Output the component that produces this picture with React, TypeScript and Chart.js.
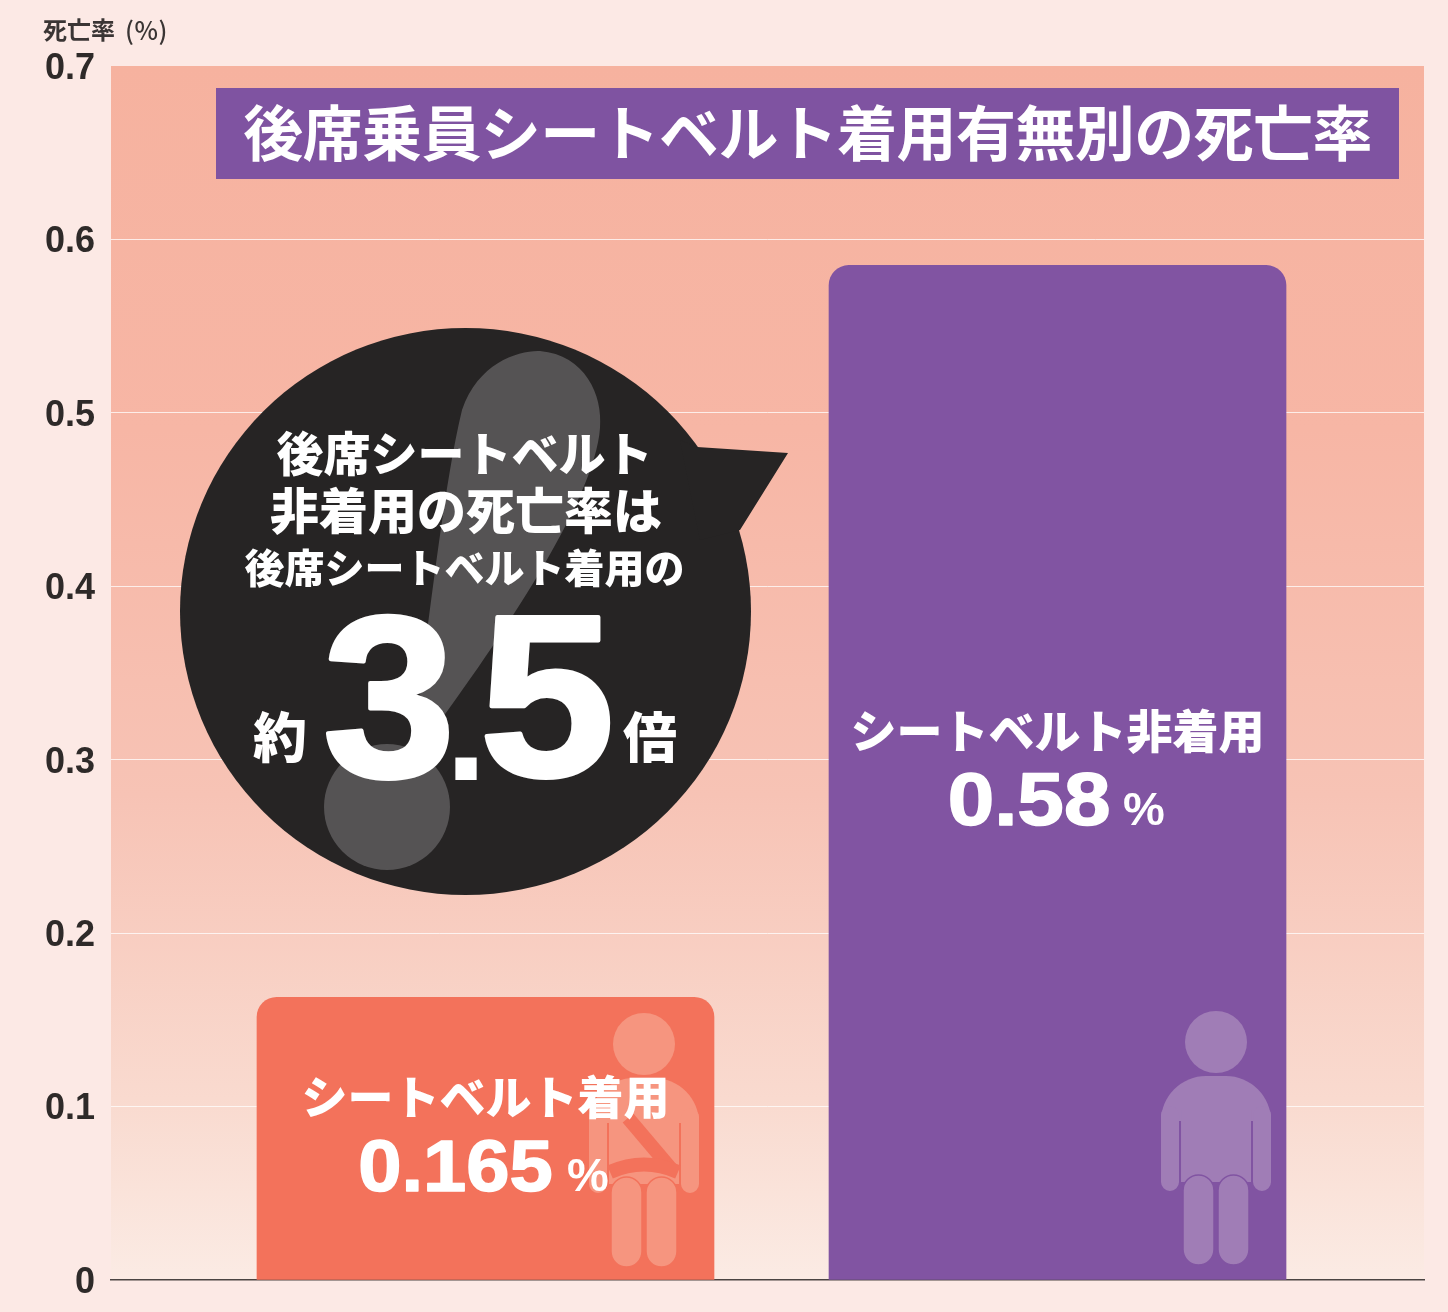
import React, { useEffect, useRef } from "react";
import { Chart, registerables } from "chart.js";

Chart.register(...registerables);

const categories = ["シートベルト着用", "シートベルト非着用"];
const categoryPositions = [0, 1];
const barValues = [0.163, 0.585];
const valueLabels = ["0.165", "0.58"];
const tickValues = [0, 0.1, 0.2, 0.3, 0.4, 0.5, 0.6, 0.7];
const tickLabels = ["0", "0.1", "0.2", "0.3", "0.4", "0.5", "0.6", "0.7"];
const barColors = ["#F3725B", "#8154A2"];
const personColors = ["#F6957F", "#A07DB6"];
const titleText = "後席乗員シートベルト着用有無別の死亡率";
const bubbleLines = ["後席シートベルト", "非着用の死亡率は", "後席シートベルト着用の"];

const JP = '"Noto Sans CJK JP"';
const LAT = '"Liberation Sans"';

function text(ctx: any, s: string, x: number, y: number, font: string, color = "#fff", align = "center", spacing = "0px") {
  ctx.font = font;
  ctx.fillStyle = color;
  ctx.textAlign = align;
  ctx.textBaseline = "middle";
  ctx.letterSpacing = spacing;
  ctx.fillText(s, x, y);
  ctx.letterSpacing = "0px";
}

// Latin numerals in the reference are wider and heavier than Liberation Bold
function wideText(ctx: any, s: string, x: number, y: number, font: string, sx: number, heavy: number, baseline = "middle") {
  ctx.save();
  ctx.translate(x, y);
  ctx.scale(sx, 1);
  ctx.font = font;
  ctx.fillStyle = "#fff";
  ctx.strokeStyle = "#fff";
  ctx.lineWidth = heavy;
  ctx.lineJoin = "round";
  ctx.textAlign = "center";
  ctx.textBaseline = baseline;
  if (heavy > 0) ctx.strokeText(s, 0, 0);
  ctx.fillText(s, 0, 0);
  ctx.restore();
}

function drawPerson(ctx: any, cx: number, dy: number, fill: string, bg: string, belt: boolean) {
  ctx.save();
  ctx.fillStyle = fill;
  ctx.beginPath();
  ctx.arc(cx, 1042 + dy, 31, 0, Math.PI * 2);
  ctx.fill();
  // shoulders
  ctx.beginPath();
  ctx.roundRect(cx - 55, 1076 + dy, 110, 45, [46, 46, 0, 0]);
  ctx.fill();
  // arms
  ctx.beginPath();
  ctx.roundRect(cx - 55, 1106 + dy, 18, 85, 9);
  ctx.roundRect(cx + 37, 1106 + dy, 18, 85, 9);
  ctx.fill();
  // torso
  ctx.fillRect(cx - 35, 1110 + dy, 70, 72);
  if (belt) {
    ctx.strokeStyle = bg;
    ctx.lineWidth = 14;
    ctx.beginPath();
    ctx.moveTo(cx - 16, 1116 + dy);
    ctx.lineTo(cx + 28, 1168 + dy);
    ctx.stroke();
    ctx.beginPath();
    ctx.moveTo(cx - 34, 1170 + dy);
    ctx.quadraticCurveTo(cx, 1155 + dy, cx + 34, 1170 + dy);
    ctx.stroke();
  }
  // legs
  ctx.fillStyle = fill;
  ctx.strokeStyle = bg;
  ctx.lineWidth = 1.5;
  for (const lx of [cx - 33, cx + 2]) {
    ctx.beginPath();
    ctx.roundRect(lx, 1175 + dy, 31, 90, 15.5);
    ctx.fill();
    ctx.stroke();
  }
  ctx.restore();
}

const backgroundPlugin = {
  id: "background",
  beforeDraw(chart: any) {
    const { ctx, chartArea: a, width, height } = chart;
    ctx.save();
    ctx.fillStyle = "#FCE9E5";
    ctx.fillRect(0, 0, width, height);
    const g = ctx.createLinearGradient(0, a.top, 0, a.bottom);
    g.addColorStop(0, "#F6B29F");
    g.addColorStop(0.3, "#F7B6A5");
    g.addColorStop(0.6, "#F7C3B5");
    g.addColorStop(0.85, "#F9DACF");
    g.addColorStop(1, "#FBEBE4");
    ctx.fillStyle = g;
    ctx.fillRect(a.left, a.top, a.right - a.left, a.bottom - a.top);
    ctx.restore();
  },
};

// the tick numerals sit a little below their grid lines in the reference
const tickNudgePlugin = {
  id: "tickNudge",
  afterLayout(chart: any) {
    const y = chart.scales.y;
    const orig = y.getLabelItems.bind(y);
    y.getLabelItems = (area: any) => {
      y._labelItems = null;
      return orig(area).map((it: any) => ({
        ...it,
        options: { ...it.options, translation: [it.options.translation[0], it.options.translation[1] + 3] },
      }));
    };
  },
};

const overlayPlugin = {
  id: "overlay",
  afterDatasetsDraw(chart: any) {
    const { ctx } = chart;
    const bars = chart.getDatasetMeta(0).data;
    ctx.save();

    // axis caption
    text(ctx, "死亡率", 43, 30, `700 24px ${JP}`, "#3A3534", "left");
    text(ctx, "(%)", 125, 30, `500 25px ${JP}`, "#3A3534", "left", "0.6px");

    // title
    ctx.fillStyle = "#7F53A1";
    ctx.fillRect(216, 88, 1183, 91);
    text(ctx, titleText, 807.5, 133, `700 60px ${JP}`, "#fff", "center", "-0.6px");

    // people
    bars.forEach((b: any, i: number) => {
      const cx = b.x + b.width / 2 - 70;
      drawPerson(ctx, cx, i === 0 ? 2 : 0, personColors[i], barColors[i], i === 0);
    });

    // bar labels
    const left = bars[0].x;
    text(ctx, categories[0], left, 1097, `900 46px ${JP}`);
    wideText(ctx, valueLabels[0], left - 30, 1171, `700 72px ${LAT}`, 1.08, 1.5);
    wideText(ctx, "%", 588, 1178, `700 47px ${LAT}`, 1, 0);
    const right = bars[1].x;
    text(ctx, categories[1], right, 731, `900 46px ${JP}`);
    wideText(ctx, valueLabels[1], right - 28.5, 805, `700 74px ${LAT}`, 1.13, 1.5);
    wideText(ctx, "%", 1144, 812, `700 47px ${LAT}`, 1, 0);

    // speech bubble
    ctx.fillStyle = "#262424";
    ctx.beginPath();
    ctx.ellipse(465.5, 611.5, 285.5, 283.5, 0, 0, Math.PI * 2);
    ctx.fill();
    ctx.beginPath();
    ctx.moveTo(680, 440);
    ctx.lineTo(697, 447);
    ctx.lineTo(788, 453);
    ctx.lineTo(740, 530);
    ctx.lineTo(700, 540);
    ctx.closePath();
    ctx.fill();

    // exclamation mark
    ctx.fillStyle = "#555354";
    ctx.beginPath();
    ctx.moveTo(419, 690);
    ctx.bezierCurveTo(432, 600, 445, 480, 462, 410);
    ctx.bezierCurveTo(478, 362, 520, 350, 540, 351);
    ctx.bezierCurveTo(585, 355, 603, 395, 600, 428);
    ctx.bezierCurveTo(595, 500, 500, 640, 430, 735);
    ctx.closePath();
    ctx.fill();
    ctx.beginPath();
    ctx.arc(387, 807, 63, 0, Math.PI * 2);
    ctx.fill();

    // bubble text
    text(ctx, bubbleLines[0], 464.5, 453, `900 47px ${JP}`);
    text(ctx, bubbleLines[1], 466, 510, `900 49px ${JP}`);
    text(ctx, bubbleLines[2], 464.5, 568, `900 40px ${JP}`);
    text(ctx, "約", 280, 737, `900 54px ${JP}`);
    text(ctx, "倍", 650, 737, `900 54px ${JP}`);
    wideText(ctx, "3", 389, 776, `700 230px ${LAT}`, 1.04, 4, "alphabetic");
    wideText(ctx, ".", 466, 780, `700 150px ${LAT}`, 1, 0, "alphabetic");
    wideText(ctx, "5", 547, 776, `700 230px ${LAT}`, 1.06, 4, "alphabetic");

    ctx.restore();
  },
};

export default function App() {
  const ref = useRef<HTMLCanvasElement>(null);

  useEffect(() => {
    document.body.style.margin = "0";
    const chart = new Chart(ref.current as any, {
      type: "bar",
      data: {
        datasets: [
          {
            data: categoryPositions.map((x, i) => ({ x, y: barValues[i] })),
            backgroundColor: barColors,
            barThickness: 457,
            borderSkipped: false,
            borderRadius: { topLeft: 20, topRight: 20, bottomLeft: 0, bottomRight: 0 },
          },
        ],
      },
      options: {
        responsive: false,
        animation: false,
        devicePixelRatio: 1,
        layout: { padding: { top: 66, right: 24, left: 0, bottom: 0 } },
        plugins: { legend: { display: false }, title: { display: false }, tooltip: { enabled: false } },
        scales: {
          x: {
            type: "linear",
            offset: false,
            min: -0.6547,
            max: 1.6407,
            ticks: { display: false },
            grid: { display: false },
            border: { display: true, color: "#4A4442", width: 1.5 },
            afterFit(s: any) {
              s.height = 32;
            },
          },
          y: {
            min: 0,
            max: 0.7,
            afterBuildTicks(s: any) {
              s.ticks = tickValues.map((value) => ({ value }));
            },
            afterFit(s: any) {
              s.width = 111;
              s.paddingTop = 0;
              s.paddingBottom = 0;
            },
            ticks: {
              padding: 16,
              color: "#2E2A29",
              font: { family: "Liberation Sans", size: 36, weight: "bold" },
              callback: (v: any) => tickLabels[tickValues.indexOf(v)],
            },
            grid: {
              drawTicks: false,
              tickLength: 0,
              lineWidth: 1,
              color: (c: any) =>
                c.tick && c.tick.value > 0 && c.tick.value < 0.7 ? "rgba(255,255,255,0.75)" : "rgba(0,0,0,0)",
            },
            border: { display: false },
          },
        },
      },
      plugins: [backgroundPlugin, tickNudgePlugin, overlayPlugin],
    } as any);
    return () => chart.destroy();
  }, []);

  return <canvas ref={ref} width={1448} height={1312} style={{ display: "block" }} />;
}
